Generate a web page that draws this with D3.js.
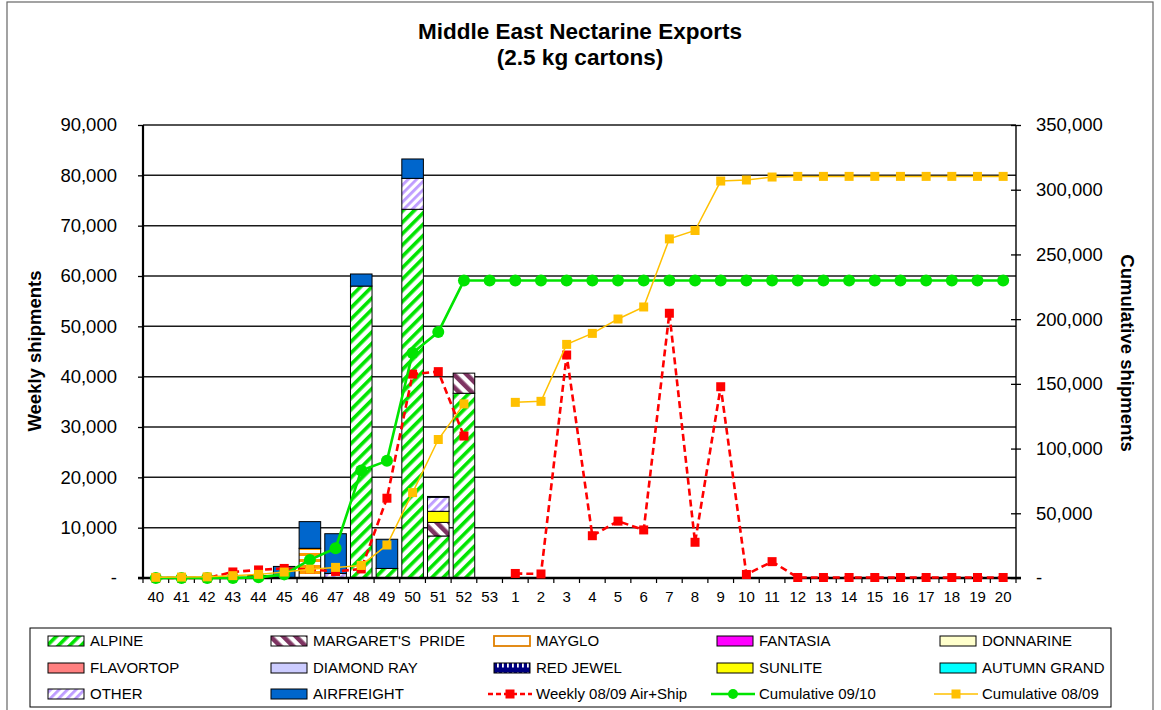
<!DOCTYPE html>
<html><head><meta charset="utf-8">
<script src="https://cdn.jsdelivr.net/npm/d3@7"></script>
<style>
body{margin:0;background:#fff}
svg{display:block}
text{font-family:"Liberation Sans",Arial,Helvetica,sans-serif;fill:#000}
</style>
</head><body>
<svg id="c" width="1161" height="710"></svg>
<script>
// ---------- DATA ----------
const weeks = ["40","41","42","43","44","45","46","47","48","49","50","51","52","53",
  "1","2","3","4","5","6","7","8","9","10","11","12","13","14","15","16","17","18","19","20"];

const alpine      = [0,0,0,0,0,0,0,0,58000,1900,73250,8350,36700,0, 0,0,0,0,0,0,0,0,0,0,0,0,0,0,0,0,0,0,0,0];
const margaret    = [0,0,0,0,0,0,0,0,0,0,0,2700,4000,0, 0,0,0,0,0,0,0,0,0,0,0,0,0,0,0,0,0,0,0,0];
const mayglo      = [0,0,0,0,0,0,5900,0,0,0,0,0,0,0, 0,0,0,0,0,0,0,0,0,0,0,0,0,0,0,0,0,0,0,0];
const fantasia    = [0,0,0,0,0,0,0,0,0,0,0,0,0,0, 0,0,0,0,0,0,0,0,0,0,0,0,0,0,0,0,0,0,0,0];
const donnarine   = [0,0,0,0,0,0,0,0,0,0,0,0,0,0, 0,0,0,0,0,0,0,0,0,0,0,0,0,0,0,0,0,0,0,0];
const flavortop   = [0,0,0,0,0,0,0,0,0,0,0,0,0,0, 0,0,0,0,0,0,0,0,0,0,0,0,0,0,0,0,0,0,0,0];
const diamondRay  = [0,0,0,0,0,0,0,0,0,0,0,0,0,0, 0,0,0,0,0,0,0,0,0,0,0,0,0,0,0,0,0,0,0,0];
const redJewel    = [0,0,0,0,0,0,0,0,0,0,0,0,0,0, 0,0,0,0,0,0,0,0,0,0,0,0,0,0,0,0,0,0,0,0];
const sunlite     = [0,0,0,0,0,0,0,0,0,0,0,2200,0,0, 0,0,0,0,0,0,0,0,0,0,0,0,0,0,0,0,0,0,0,0];
const autumnGrand = [0,0,0,0,0,0,0,0,0,0,0,0,0,0, 0,0,0,0,0,0,0,0,0,0,0,0,0,0,0,0,0,0,0,0];
const other       = [0,0,0,0,0,0,0,900,0,0,6150,2800,0,0, 0,0,0,0,0,0,0,0,0,0,0,0,0,0,0,0,0,0,0,0];
const airfreight  = [0,0,0,0,500,2300,5300,7900,2400,5800,3850,150,0,0, 0,0,0,0,0,0,0,0,0,0,0,0,0,0,0,0,0,0,0,0];

const weekly0809 = [0,0,0,1200,1600,1900,1700,1300,1800,15850,40500,41000,28200,null,
  900,800,44300,8400,11300,9550,52600,7100,38000,700,3250,100,100,100,100,100,100,100,100,100];
const cumul0910 = [0,0,0,0,500,2800,14000,23000,83000,90500,173800,190000,229800,229800,
  229800,229800,229800,229800,229800,229800,229800,229800,229800,229800,229800,229800,229800,229800,229800,229800,229800,229800,229800,229800];
const cumul0809 = [500,700,900,1800,2800,4600,6800,8200,9700,25500,66000,107000,134500,null,
  135700,136500,180500,189000,200100,209400,262000,268500,306700,307500,309800,310300,310300,310300,310300,310300,310300,310300,310300,310300];

const leftTicks = [0,10000,20000,30000,40000,50000,60000,70000,80000,90000];
const rightTicks = [0,50000,100000,150000,200000,250000,300000,350000];

// ---------- SETUP ----------
const svg = d3.select("#c");
const defs = svg.append("defs");
function stripe(id, color, w, sw, rot, bg="#fff"){
  const p = defs.append("pattern").attr("id",id).attr("patternUnits","userSpaceOnUse")
    .attr("width",w).attr("height",w).attr("patternTransform",`rotate(${rot})`);
  p.append("rect").attr("width",w).attr("height",w).attr("fill",bg);
  p.append("rect").attr("width",sw).attr("height",w).attr("fill",color);
}
stripe("pAlpine","#00E400",8,3.6,45);
stripe("pMargaret","#7E3462",9,4.6,-45);
stripe("pOther","#BE9CFF",6,2.8,45);
(function(){
  const p = defs.append("pattern").attr("id","pMayglo").attr("patternUnits","userSpaceOnUse").attr("width",8).attr("height",6);
  p.append("rect").attr("width",8).attr("height",6).attr("fill","#fff");
  p.append("rect").attr("y",1).attr("width",8).attr("height",3).attr("fill","#FF9900");
  const q = defs.append("pattern").attr("id","pRedJewel").attr("patternUnits","userSpaceOnUse").attr("width",5).attr("height",10);
  q.append("rect").attr("width",5).attr("height",10).attr("fill","#000080");
  q.append("rect").attr("x",2).attr("y",2.5).attr("width",1.8).attr("height",5).attr("fill","#fff");
})();

const varieties = [
  {key:"ALPINE", values:alpine, fill:"url(#pAlpine)"},
  {key:"MARGARET'S  PRIDE", values:margaret, fill:"url(#pMargaret)"},
  {key:"MAYGLO", values:mayglo, fill:"url(#pMayglo)", legendFill:"#fff", legendStroke:"#E08000"},
  {key:"FANTASIA", values:fantasia, fill:"#FF00FF"},
  {key:"DONNARINE", values:donnarine, fill:"#FFFFCC"},
  {key:"FLAVORTOP", values:flavortop, fill:"#FF8080"},
  {key:"DIAMOND RAY", values:diamondRay, fill:"#CCCCFF"},
  {key:"RED JEWEL", values:redJewel, fill:"url(#pRedJewel)"},
  {key:"SUNLITE", values:sunlite, fill:"#FFFF00"},
  {key:"AUTUMN GRAND", values:autumnGrand, fill:"#00FFFF"},
  {key:"OTHER", values:other, fill:"url(#pOther)"},
  {key:"AIRFREIGHT", values:airfreight, fill:"#0066CC"}
];

const L = 143, R = 1016, T = 125, B = 578;
const x = d3.scaleBand().domain(weeks).range([L,R]).paddingInner(0.16).paddingOuter(0.08);
const yL = d3.scaleLinear().domain([0,90000]).range([B,T]);
const yR = d3.scaleLinear().domain([0,350000]).range([B,T]);
const cx = w => x(w) + x.bandwidth()/2;
const fmt = d3.format(",");
const lab = v => v === 0 ? "-" : fmt(v);

// outer frame
svg.append("rect").attr("x",7).attr("y",2).attr("width",1146).attr("height",740)
  .attr("fill","none").attr("stroke","#666").attr("stroke-width",1.2);

// title
svg.append("text").attr("x",580).attr("y",39).attr("text-anchor","middle")
  .style("font-size","22.5px").style("font-weight","bold").text("Middle East Nectarine Exports");
svg.append("text").attr("x",580).attr("y",65).attr("text-anchor","middle")
  .style("font-size","22.5px").style("font-weight","bold").text("(2.5 kg cartons)");

// gridlines
svg.append("g").selectAll("line").data(leftTicks.filter(v=>v>0)).join("line")
  .attr("x1",L).attr("x2",R).attr("y1",d=>yL(d)).attr("y2",d=>yL(d))
  .attr("stroke","#1a1a1a").attr("stroke-width",1.5);

// bars
const rows = weeks.map((w,i)=>{const r={week:w}; varieties.forEach(v=>r[v.key]=v.values[i]); return r;});
const stacked = d3.stack().keys(varieties.map(v=>v.key))(rows);
const gBars = svg.append("g");
stacked.forEach((layer,li)=>{
  gBars.append("g").selectAll("rect").data(layer.filter(d=>d[1]-d[0]>0)).join("rect")
    .attr("x",d=>x(d.data.week)).attr("width",x.bandwidth())
    .attr("y",d=>yL(d[1])).attr("height",d=>yL(d[0])-yL(d[1]))
    .attr("fill",varieties[li].fill).attr("stroke","#000").attr("stroke-width",1);
});

// axes
const gLeft = svg.append("g").attr("transform",`translate(${L},0)`)
  .call(d3.axisLeft(yL).tickValues(leftTicks).tickFormat(lab).tickSize(5).tickPadding(21));
const gRight = svg.append("g").attr("transform",`translate(${R},0)`)
  .call(d3.axisRight(yR).tickValues(rightTicks).tickFormat(lab).tickSize(5).tickPadding(15));
gRight.selectAll(".tick line").attr("x1",-5);
[gLeft,gRight].forEach(g=>{
  g.select(".domain").remove();
  g.selectAll(".tick line").attr("stroke","#000").attr("stroke-width",1.3);
  g.selectAll(".tick text").style("font-size","18.5px").attr("fill","#000");
});
svg.append("line").attr("x1",L).attr("x2",L).attr("y1",T).attr("y2",B+1).attr("stroke","#000").attr("stroke-width",2.2);
svg.append("line").attr("x1",R).attr("x2",R).attr("y1",T).attr("y2",B+1).attr("stroke","#000").attr("stroke-width",1.4);

const gX = svg.append("g").attr("transform",`translate(0,${B})`)
  .call(d3.axisBottom(x).tickSize(0).tickPadding(13));
gX.select(".domain").remove();
gX.selectAll(".tick text").style("font-size","15px").attr("fill","#000");
// category boundary ticks
const step = x.step();
svg.append("g").selectAll("line").data(d3.range(weeks.length+1)).join("line")
  .attr("x1",i=>L+i*step).attr("x2",i=>L+i*step).attr("y1",B).attr("y2",B+5)
  .attr("stroke","#000").attr("stroke-width",1.2);
svg.append("line").attr("x1",L-5).attr("x2",R+5).attr("y1",B).attr("y2",B).attr("stroke","#000").attr("stroke-width",2.4);

// axis titles
svg.append("text").attr("transform","translate(41,351) rotate(-90)").attr("text-anchor","middle")
  .style("font-size","18.5px").style("font-weight","bold").text("Weekly shipments");
svg.append("text").attr("transform","translate(1121,353) rotate(90)").attr("text-anchor","middle")
  .style("font-size","18.5px").style("font-weight","bold").text("Cumulative shipments");

// lines
const idx = d3.range(weeks.length);
const redLine = d3.line().defined(i=>weekly0809[i]!==null).x(i=>cx(weeks[i])).y(i=>yL(weekly0809[i]));
const greenLine = d3.line().defined(i=>cumul0910[i]!==null).x(i=>cx(weeks[i])).y(i=>yR(cumul0910[i]));
const yelLine = d3.line().defined(i=>cumul0809[i]!==null).x(i=>cx(weeks[i])).y(i=>yR(cumul0809[i]));

const RED="#FF0000", GREEN="#00E400", YEL="#FFC000";
svg.append("path").attr("d",redLine(idx)).attr("fill","none").attr("stroke",RED).attr("stroke-width",2.6).attr("stroke-dasharray","7,4");
svg.append("g").selectAll("rect").data(idx.filter(i=>weekly0809[i]!==null)).join("rect")
  .attr("x",i=>cx(weeks[i])-4.5).attr("y",i=>yL(weekly0809[i])-4.5).attr("width",9).attr("height",9).attr("fill",RED);

svg.append("path").attr("d",greenLine(idx)).attr("fill","none").attr("stroke",GREEN).attr("stroke-width",2.6);
svg.append("g").selectAll("circle").data(idx.filter(i=>cumul0910[i]!==null)).join("circle")
  .attr("cx",i=>cx(weeks[i])).attr("cy",i=>yR(cumul0910[i])).attr("r",6).attr("fill",GREEN);

svg.append("path").attr("d",yelLine(idx)).attr("fill","none").attr("stroke",YEL).attr("stroke-width",1.5);
svg.append("g").selectAll("rect").data(idx.filter(i=>cumul0809[i]!==null)).join("rect")
  .attr("x",i=>cx(weeks[i])-4.5).attr("y",i=>yR(cumul0809[i])-4.5).attr("width",9).attr("height",9).attr("fill",YEL);

// legend
svg.append("rect").attr("x",30).attr("y",628).attr("width",1081).attr("height",79)
  .attr("fill","#fff").attr("stroke","#000").attr("stroke-width",1);
const legendItems = varieties.map(v=>({label:v.key, type:"box", fill:v.legendFill||v.fill, stroke:v.legendStroke||"#000"}))
  .concat([
    {label:"Weekly 08/09 Air+Ship", type:"line", color:RED, dash:"5,3", marker:"square", w:2.4},
    {label:"Cumulative 09/10", type:"line", color:GREEN, marker:"circle", w:2.4},
    {label:"Cumulative 08/09", type:"line", color:YEL, marker:"square", w:1.5}
  ]);
const colX = [48,271,494,717,940], rowY = [641,668,694];
legendItems.forEach((it,k)=>{
  const gx = colX[k%5], gy = rowY[Math.floor(k/5)];
  const g = svg.append("g");
  if(it.type==="box"){
    g.append("rect").attr("x",gx).attr("y",gy-5).attr("width",36).attr("height",10)
      .attr("fill",it.fill).attr("stroke",it.stroke).attr("stroke-width",it.stroke==="#000"?1:1.8);
  } else {
    g.append("line").attr("x1",gx-6).attr("x2",gx+38).attr("y1",gy).attr("y2",gy)
      .attr("stroke",it.color).attr("stroke-width",it.w).attr("stroke-dasharray",it.dash||null);
    if(it.marker==="square") g.append("rect").attr("x",gx+16-4.5).attr("y",gy-4.5).attr("width",9).attr("height",9).attr("fill",it.color);
    else g.append("circle").attr("cx",gx+16).attr("cy",gy).attr("r",5).attr("fill",it.color);
  }
  g.append("text").attr("x",gx+42).attr("y",gy).attr("dy","0.36em").attr("xml:space","preserve")
    .style("white-space","pre").style("font-size","15px").text(it.label);
});
</script>
</body></html>
